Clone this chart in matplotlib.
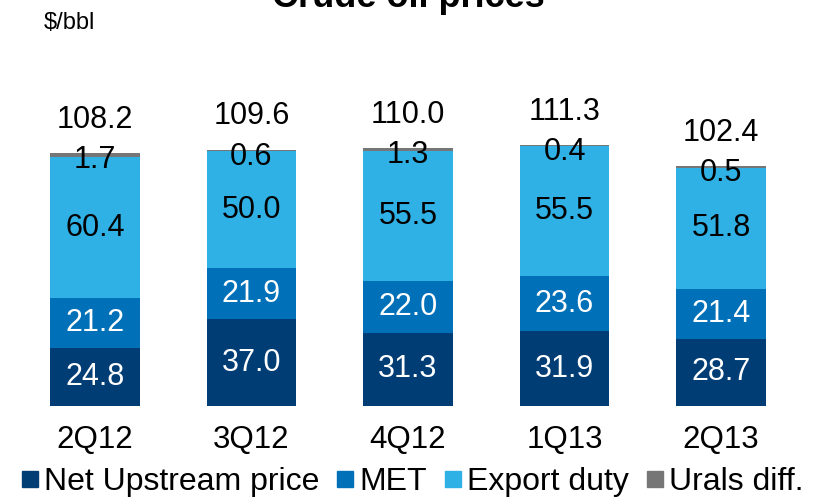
import matplotlib.pyplot as plt
from matplotlib.lines import Line2D

plt.rcParams['font.family'] = ['Liberation Sans', 'DejaVu Sans']

quarters = ['2Q12', '3Q12', '4Q12', '1Q13', '2Q13']
net_upstream = [24.8, 37.0, 31.3, 31.9, 28.7]
met = [21.2, 21.9, 22.0, 23.6, 21.4]
export_duty = [60.4, 50.0, 55.5, 55.5, 51.8]
urals_diff = [1.7, 0.6, 1.3, 0.4, 0.5]
totals = [108.2, 109.6, 110.0, 111.3, 102.4]

series = ['Net Upstream price', 'MET', 'Export duty', 'Urals diff.']
colors = ['#003d75', '#0070b8', '#2fb1e6', '#767676']
text_colors = ['white', 'white', 'black', 'black']

fig = plt.figure(figsize=(8.16, 4.99), dpi=100)
ax = fig.add_axes([0, 93 / 499, 1, 406 / 499])

x = list(range(len(quarters)))
width = 0.57
bottoms = [0.0] * len(quarters)
for name, vals, col, tc in zip(series, [net_upstream, met, export_duty, urals_diff], colors, text_colors):
    ax.bar(x, vals, width, bottom=bottoms, color=col, label=name)
    for i, v in enumerate(vals):
        if name == 'Urals diff.':
            y = bottoms[i] + v - 3.0
        else:
            y = bottoms[i] + v / 2
        ax.text(i, y, f'{v:.1f}', ha='center', va='center', color=tc, fontsize=22)
    bottoms = [b + v for b, v in zip(bottoms, vals)]

for i, t in enumerate(totals):
    ax.annotate(f'{t:.1f}', (i, bottoms[i]), xytext=(0, 24), textcoords='offset points',
                ha='center', va='center', fontsize=22)

ax.set_xlim(-0.607, 4.607)
ax.set_ylim(0, 406 / 2.34)
ax.set_xticks(x)
ax.set_xticklabels(quarters, fontsize=22.5)
ax.tick_params(axis='x', length=0, pad=14)
ax.set_yticks([])
for s in ax.spines.values():
    s.set_visible(False)

fig.text(0.5, 1 - 7 / 499, 'Crude oil prices', ha='center', va='baseline',
         fontsize=26, fontweight='bold')
fig.text(44 / 816, 1 - 29 / 499, '$/bbl', ha='left', va='baseline', fontsize=17)

handles = [Line2D([], [], marker='s', linestyle='none', markersize=11, color=c) for c in colors]
fig.legend(handles, series, loc='center', bbox_to_anchor=(413 / 816, 1 - 482 / 499), ncol=4,
           frameon=False, fontsize=23, handlelength=0.47, handletextpad=0.22,
           columnspacing=0.56, borderpad=0, borderaxespad=0)

fig.savefig('out.png', dpi=100)
